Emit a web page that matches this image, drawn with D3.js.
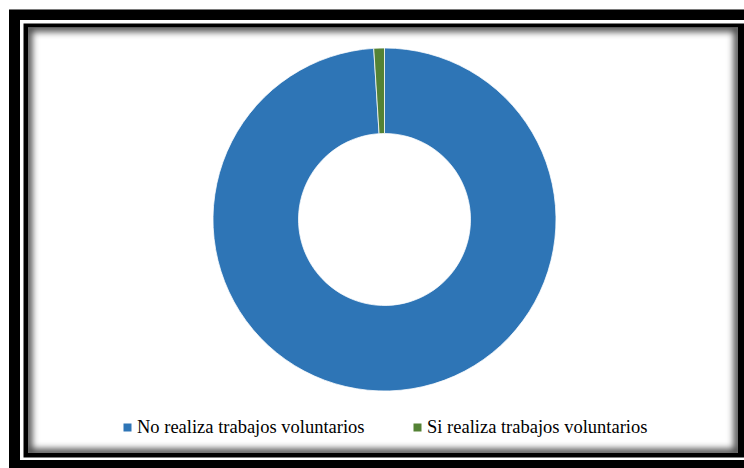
<!DOCTYPE html>
<html><head><meta charset="utf-8">
<script src="https://cdn.jsdelivr.net/npm/d3@7/dist/d3.min.js"></script>
<style>html,body{margin:0;padding:0;background:#fff;}svg{display:block;}</style>
</head><body>
<script>
const categories = ["No realiza trabajos voluntarios", "Si realiza trabajos voluntarios"];
const values = [99, 1];
const colors = ["#2E75B6", "#548235"];

const W = 744, H = 468;
const svg = d3.select("body").append("svg").attr("width", W).attr("height", H);

// Frame
svg.append("rect").attr("x", 9).attr("y", 9).attr("width", W).attr("height", H).attr("fill", "#000");
svg.append("rect").attr("x", 9).attr("y", 9).attr("width", W).attr("height", 0.8).attr("fill", "#999");
svg.append("rect").attr("x", 20).attr("y", 20).attr("width", W - 20).attr("height", 440).attr("fill", "#fff");
svg.append("rect").attr("x", 23.5).attr("y", 23.5).attr("width", W - 23.5).attr("height", 434).attr("fill", "#000");
const ix = 28, iy = 27.5, iw = 738 - 28, ih = 453 - 27.5;
svg.append("rect").attr("x", ix).attr("y", iy).attr("width", iw).attr("height", ih).attr("fill", "#fff");

const defs = svg.append("defs");
defs.append("clipPath").attr("id", "inner").append("rect")
  .attr("x", ix).attr("y", iy).attr("width", iw).attr("height", ih);
const f = defs.append("filter").attr("id", "blur").attr("x", "-10%").attr("y", "-10%").attr("width", "120%").attr("height", "120%");
f.append("feGaussianBlur").attr("stdDeviation", 3.5);
svg.append("g").attr("clip-path", "url(#inner)")
  .append("rect").attr("x", ix).attr("y", iy).attr("width", iw).attr("height", ih)
  .attr("fill", "none").attr("stroke", "#000").attr("stroke-opacity", 0.75).attr("stroke-width", 8)
  .attr("filter", "url(#blur)");

// Donut
const cx = 384.5, cy = 219.5, R = 171.5, r = 86;
const pie = d3.pie().sort(null).value(d => d);
const arc = d3.arc().innerRadius(r).outerRadius(R);
const g = svg.append("g").attr("transform", `translate(${cx},${cy})`);
g.selectAll("path").data(pie(values)).join("path")
  .attr("d", arc)
  .attr("fill", (d, i) => colors[i])
  .attr("stroke", "#fff").attr("stroke-width", 0.75);

// Legend
const legendX = [123.5, 413.5];
const lg = svg.append("g");
categories.forEach((c, i) => {
  lg.append("rect").attr("x", legendX[i]).attr("y", 423.5).attr("width", 8).attr("height", 8).attr("fill", colors[i]);
  lg.append("text").attr("x", legendX[i] + 13.5).attr("y", 432.5).attr("fill", "#000")
    .style("font-family", '"Liberation Serif"').style("font-size", "18.5px").text(c);
});
</script>
</body></html>
